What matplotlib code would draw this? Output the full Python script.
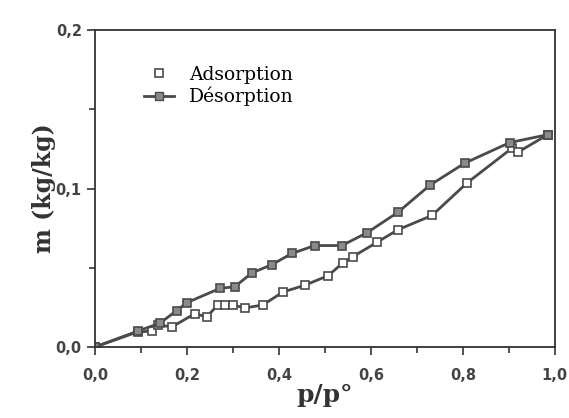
import matplotlib.pyplot as plt
from matplotlib.lines import Line2D
from matplotlib.ticker import MultipleLocator

# Isotherme adsorption / désorption
p_ads = [0.0, 0.093, 0.124, 0.137, 0.167, 0.217, 0.243, 0.267, 0.283, 0.300,
         0.326, 0.365, 0.409, 0.457, 0.507, 0.539, 0.561, 0.613, 0.659, 0.733,
         0.809, 0.907, 0.920, 0.985]
m_ads = [0.0, 0.0095, 0.010, 0.014, 0.0126, 0.021, 0.019, 0.0265, 0.0265, 0.0265,
         0.0246, 0.0265, 0.0347, 0.039, 0.045, 0.053, 0.057, 0.066, 0.074, 0.083,
         0.1035, 0.1255, 0.123, 0.134]

p_des = [0.0, 0.093, 0.141, 0.178, 0.200, 0.272, 0.304, 0.341, 0.385, 0.428,
         0.478, 0.537, 0.591, 0.659, 0.728, 0.804, 0.902, 0.985]
m_des = [0.0, 0.010, 0.015, 0.023, 0.028, 0.037, 0.038, 0.0467, 0.052, 0.059,
         0.064, 0.064, 0.072, 0.085, 0.102, 0.116, 0.129, 0.134]

xticks = [0.0, 0.2, 0.4, 0.6, 0.8, 1.0]
xlabels = ['0,0', '0,2', '0,4', '0,6', '0,8', '1,0']
yticks = [0.0, 0.1, 0.2]
ylabels = ['0,0', '0,1', '0,2']

grey = '#4a4a4a'

fig = plt.figure(figsize=(5.69, 4.18), dpi=100)
ax = fig.add_axes([0.167, 0.170, 0.808, 0.758])

ax.plot(p_ads, m_ads, color=grey, lw=2.0, marker='s', ms=5.5,
        mfc='white', mec=grey, mew=1.2)
ax.plot(p_des, m_des, color=grey, lw=2.0, marker='s', ms=5.5,
        mfc='#8a8a8a', mec=grey, mew=1.2)

ax.set_xlim(0, 1.0)
ax.set_ylim(0, 0.2)
ax.set_xticks(xticks)
ax.set_xticklabels(xlabels)
ax.set_yticks(yticks)
ax.set_yticklabels(ylabels)
ax.xaxis.set_minor_locator(MultipleLocator(0.1))
ax.yaxis.set_minor_locator(MultipleLocator(0.05))
ax.tick_params(which='both', direction='out', color='#333333', width=1.2)
ax.tick_params(which='major', length=6, labelsize=10.5, labelcolor='#444444')
ax.tick_params(which='minor', length=4)
ax.tick_params(axis='x', pad=9)
for lab in ax.get_xticklabels() + ax.get_yticklabels():
    lab.set_fontweight('semibold')
for s in ax.spines.values():
    s.set_color('#333333')
    s.set_linewidth(1.3)

ax.set_xlabel('p/p°', family='DejaVu Serif', fontsize=18, fontweight='bold',
              color='#333333', labelpad=0)
ax.set_ylabel('m (kg/kg)', family='DejaVu Serif', fontsize=17, fontweight='bold',
              color='#333333', labelpad=0)

handles = [
    Line2D([], [], ls='none', marker='s', ms=5.5, mfc='white', mec=grey, mew=1.2),
    Line2D([], [], color=grey, lw=2, marker='s', ms=5.5, mfc='#8a8a8a', mec=grey),
]
ax.legend(handles, ['Adsorption', 'Désorption'], loc='upper left',
          bbox_to_anchor=(0.07, 0.94), frameon=False, handlelength=1.6,
          handletextpad=0.8, labelspacing=0.15,
          prop={'family': 'DejaVu Serif', 'size': 13.5})

fig.savefig('out.png', dpi=100)
